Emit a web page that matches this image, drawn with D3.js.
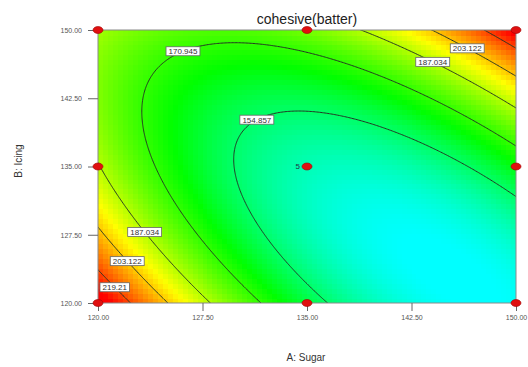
<!DOCTYPE html>
<html>
<head>
<meta charset="utf-8">
<script src="https://cdn.jsdelivr.net/npm/d3@7"></script>
<style>
  body { margin: 0; background: #fff; }
  text { font-family: "Liberation Sans", Arial, sans-serif; }
</style>
</head>
<body>
<svg id="chart" width="528" height="367"></svg>
<script>
// Response: cohesive(batter) over A: Sugar and B: Icing
const title = "cohesive(batter)";
const xLabel = "A: Sugar";
const yLabel = "B: Icing";
const sugarRange = [120, 150];
const icingRange = [120, 150];
const tickValues = [120, 127.5, 135, 142.5, 150];

// Quadratic model in coded factors: Intercept, A, B, AB, A^2, B^2
const modelTerms = ["Intercept", "A", "B", "AB", "A^2", "B^2"];
const modelCoefs = [147.2, -12.0, 10.0, 35.0, 28.5, 22.0];

// Contour levels and where each contour label sits (Sugar, Icing)
const contourLevels = [154.857, 170.945, 187.034, 203.122, 219.21];
const labelLevels = [170.945, 154.857, 187.034, 203.122, 187.034, 203.122, 219.21];
const labelSugar = [126.1, 131.34, 144.11, 146.70, 123.59, 122.26, 121.36];
const labelIcing = [147.58, 140.38, 146.81, 148.41, 128.08, 124.84, 121.98];

// Design points and replicate counts
const designSugar = [120, 120, 120, 135, 135, 135, 150, 150, 150];
const designIcing = [120, 135, 150, 120, 135, 150, 120, 135, 150];
const designReps = [1, 1, 1, 1, 5, 1, 1, 1, 1];

const svg = d3.select("#chart");
const plot = { left: 98, right: 516, top: 30, bottom: 303 };

const x = d3.scaleLinear().domain(sugarRange).range([plot.left, plot.right]);
const y = d3.scaleLinear().domain(icingRange).range([plot.bottom, plot.top]);

const midA = (sugarRange[0] + sugarRange[1]) / 2, halfA = (sugarRange[1] - sugarRange[0]) / 2;
const midB = (icingRange[0] + icingRange[1]) / 2, halfB = (icingRange[1] - icingRange[0]) / 2;

function predict(a, b) {
  const xa = (a - midA) / halfA, xb = (b - midB) / halfB;
  const c = modelCoefs;
  return c[0] + c[1] * xa + c[2] * xb + c[3] * xa * xb + c[4] * xa * xa + c[5] * xb * xb;
}

const color = d3.scaleLinear()
  .domain([140, 165, 196, 228])
  .range(["#00ffff", "#00ff00", "#ffff00", "#ff0000"])
  .clamp(true);

svg.append("defs").append("clipPath").attr("id", "plot-clip")
  .append("rect")
  .attr("x", plot.left).attr("y", plot.top)
  .attr("width", plot.right - plot.left).attr("height", plot.bottom - plot.top);

// Shaded response surface as a grid of cells
const nx = 84, ny = 55;
const dA = (sugarRange[1] - sugarRange[0]) / nx;
const dB = (icingRange[1] - icingRange[0]) / ny;
const cells = [];
for (let j = 0; j < ny; j++) {
  for (let i = 0; i < nx; i++) {
    const a0 = sugarRange[0] + i * dA, b0 = icingRange[0] + j * dB;
    cells.push({ a0, b0, a1: a0 + dA, b1: b0 + dB, v: predict(a0 + dA / 2, b0 + dB / 2) });
  }
}
svg.append("g").attr("clip-path", "url(#plot-clip)")
  .selectAll("rect").data(cells).join("rect")
  .attr("x", d => x(d.a0))
  .attr("y", d => y(d.b1))
  .attr("width", d => x(d.a1) - x(d.a0) + 0.6)
  .attr("height", d => y(d.b0) - y(d.b1) + 0.6)
  .attr("fill", d => color(d.v))
  .attr("shape-rendering", "crispEdges");

// Contour lines on a fine grid slightly wider than the plot
const gn = 321, gm = 321;
const gA0 = sugarRange[0] - 1, gA1 = sugarRange[1] + 1;
const gB0 = icingRange[0] - 1, gB1 = icingRange[1] + 1;
const gdA = (gA1 - gA0) / (gn - 1), gdB = (gB1 - gB0) / (gm - 1);
const values = new Array(gn * gm);
for (let j = 0; j < gm; j++)
  for (let i = 0; i < gn; i++)
    values[j * gn + i] = predict(gA0 + i * gdA, gB0 + j * gdB);

const contours = d3.contours().size([gn, gm]).thresholds(contourLevels)(values);
const toPx = (p) => [x(gA0 + (p[0] - 0.5) * gdA), y(gB0 + (p[1] - 0.5) * gdB)];
const projection = d3.geoTransform({
  point: function (px, py) { const q = toPx([px, py]); this.stream.point(q[0], q[1]); }
});
const path = d3.geoPath(projection);

svg.append("g").attr("clip-path", "url(#plot-clip)")
  .selectAll("path").data(contours).join("path")
  .attr("d", path)
  .attr("fill", "none")
  .attr("stroke", "#243424")
  .attr("stroke-width", 1);

// Plot frame
svg.append("rect")
  .attr("x", plot.left).attr("y", plot.top)
  .attr("width", plot.right - plot.left).attr("height", plot.bottom - plot.top)
  .attr("fill", "none").attr("stroke", "#8a8a8a").attr("stroke-width", 1);

// Contour labels snapped onto their contour line
const fmtLevel = (v) => String(v);
const labelG = svg.append("g");
labelLevels.forEach((lvl, k) => {
  const c = contours.find(d => Math.abs(d.value - lvl) < 1e-9);
  const ax = x(labelSugar[k]), ay = y(labelIcing[k]);
  let best = [ax, ay], bestD = Infinity;
  c.coordinates.forEach(poly => poly.forEach(ring => ring.forEach(p => {
    const q = toPx(p);
    if (q[0] < plot.left || q[0] > plot.right || q[1] < plot.top || q[1] > plot.bottom) return;
    const dd = (q[0] - ax) ** 2 + (q[1] - ay) ** 2;
    if (dd < bestD) { bestD = dd; best = q; }
  })));
  const g = labelG.append("g").attr("transform", `translate(${best[0]},${best[1]})`);
  const t = g.append("text")
    .attr("text-anchor", "middle").attr("dy", "0.35em")
    .attr("font-size", 8).attr("fill", "#333")
    .text(fmtLevel(lvl));
  const w = t.node().getComputedTextLength() + 5;
  g.insert("rect", "text")
    .attr("x", -w / 2).attr("y", -4.5).attr("width", w).attr("height", 9)
    .attr("fill", "#fff").attr("stroke", "#666").attr("stroke-width", 0.8);
});

// Design points
const pts = designSugar.map((a, i) => ({ a, b: designIcing[i], n: designReps[i] }));
const ptG = svg.append("g");
ptG.selectAll("ellipse").data(pts).join("ellipse")
  .attr("cx", d => x(d.a)).attr("cy", d => y(d.b))
  .attr("rx", 5).attr("ry", 3.5)
  .attr("fill", "#e01010").attr("stroke", "#a00000").attr("stroke-width", 0.6);
ptG.selectAll("text").data(pts.filter(d => d.n > 1)).join("text")
  .attr("x", d => x(d.a) - 7).attr("y", d => y(d.b)).attr("dy", "0.35em")
  .attr("text-anchor", "end").attr("font-size", 8).attr("fill", "#234")
  .text(d => d.n);

// Axes
const fmt = d3.format(".2f");
const yAxis = svg.append("g").attr("transform", `translate(${plot.left},0)`)
  .call(d3.axisLeft(y).tickValues(tickValues).tickFormat(fmt).tickSize(10).tickSizeOuter(0).tickPadding(6));
const xAxis = svg.append("g").attr("transform", `translate(0,${plot.bottom})`)
  .call(d3.axisBottom(x).tickValues(tickValues).tickFormat(fmt).tickSize(8).tickSizeOuter(0).tickPadding(4));
[xAxis, yAxis].forEach(ax => {
  ax.select(".domain").remove();
  ax.selectAll(".tick line").attr("stroke", "#666");
  ax.selectAll(".tick text").attr("font-size", 7).attr("fill", "#555")
    .attr("font-family", "Liberation Sans, Arial, sans-serif");
});
// keep markers above the axis ticks
ptG.raise();

// Titles
svg.append("text").attr("x", 307).attr("y", 24).attr("text-anchor", "middle")
  .attr("font-size", 14).attr("fill", "#222").text(title);
svg.append("text").attr("x", 306).attr("y", 361).attr("text-anchor", "middle")
  .attr("font-size", 10).attr("fill", "#333").text(xLabel);
svg.append("text").attr("transform", "translate(22,161) rotate(-90)")
  .attr("text-anchor", "middle").attr("font-size", 10).attr("fill", "#333").text(yLabel);
</script>
</body>
</html>
